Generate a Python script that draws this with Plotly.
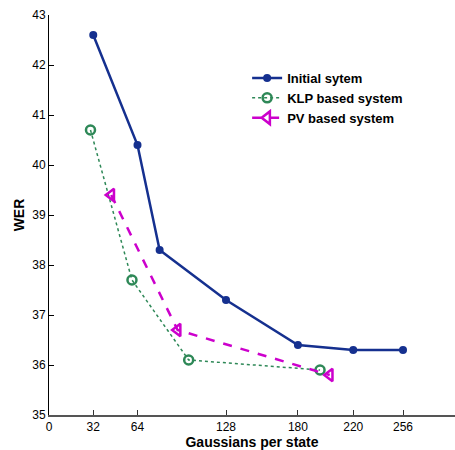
import plotly.graph_objects as go

# Gaussians per state and word error rate for each system
initial_x = [32, 64, 80, 128, 180, 220, 256]
initial_wer = [42.6, 40.4, 38.3, 37.3, 36.4, 36.3, 36.3]

klp_x = [30, 60, 101, 196]
klp_wer = [40.7, 37.7, 36.1, 35.9]

pv_x = [45, 93, 203]
pv_wer = [39.4, 36.7, 35.8]

x_ticks = [0, 32, 64, 128, 180, 220, 256]
y_ticks = [35, 36, 37, 38, 39, 40, 41, 42, 43]

NAVY = "#15308f"
GREEN = "#2e8857"
MAGENTA = "#cc00cc"
FONT = "Liberation Sans, Arial, sans-serif"

fig = go.Figure()
fig.add_trace(go.Scatter(
    x=initial_x, y=initial_wer, mode="lines+markers", name="Initial sytem",
    line=dict(color=NAVY, width=2.5),
    marker=dict(symbol="circle", size=8, color=NAVY),
))
fig.add_trace(go.Scatter(
    x=klp_x, y=klp_wer, mode="lines+markers", name="KLP based system",
    line=dict(color=GREEN, width=1.5, dash="dot"),
    marker=dict(symbol="circle-open", size=9, color=GREEN, line=dict(width=2.5, color=GREEN)),
))
fig.add_trace(go.Scatter(
    x=pv_x, y=pv_wer, mode="lines+markers", name="PV based system",
    line=dict(color=MAGENTA, width=2.5, dash="dash"),
    marker=dict(symbol="triangle-left-open", size=11, color=MAGENTA, line=dict(width=2.5, color=MAGENTA)),
))

axis_font = dict(family=FONT, size=12, color="#000")
fig.update_layout(
    width=455, height=450,
    margin=dict(l=49, r=0, t=15, b=35),
    paper_bgcolor="white", plot_bgcolor="white",
    font=axis_font,
    showlegend=True,
    legend=dict(
        x=0.488, y=0.88, xanchor="left", yanchor="top",
        bgcolor="rgba(255,255,255,0)", borderwidth=0,
        font=dict(family=FONT, size=13, color="#000", weight="bold"),
        tracegroupgap=0, itemwidth=30,
    ),
    xaxis=dict(
        range=[0, 293.6], tickmode="array", tickvals=x_ticks, ticktext=[str(v) for v in x_ticks],
        showgrid=False, zeroline=False, showline=True, linecolor="#555", linewidth=1.5,
        ticks="inside", ticklen=5, tickcolor="#333", tickfont=axis_font,
        title=dict(text="<b>Gaussians per state</b>", font=dict(size=14, family=FONT), standoff=0),
    ),
    yaxis=dict(
        range=[35, 43], tickmode="array", tickvals=y_ticks,
        showgrid=False, zeroline=False, showline=True, linecolor="#000", linewidth=1,
        ticks="inside", ticklen=5, tickcolor="#000", tickfont=axis_font,
        title=dict(text="<b>WER</b>", font=dict(size=14, family=FONT), standoff=4),
    ),
)

fig.write_html("out.html")
